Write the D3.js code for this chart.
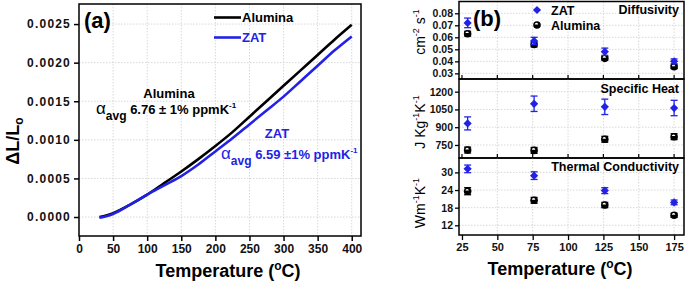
<!DOCTYPE html>
<html>
<head>
<meta charset="utf-8">
<script src="https://cdn.jsdelivr.net/npm/d3@7"></script>
<style>
  body { margin: 0; background: #fff; }
  svg { display: block; font-family: "Liberation Sans", Arial, sans-serif; font-weight: bold; }
</style>
</head>
<body>
<svg id="chart" width="685" height="283"></svg>
<script>
// ---- panel (a): dilatometry ----
const tempA = [30, 40, 50, 75, 100, 125, 150, 175, 200, 225, 250, 275, 300, 325, 350, 375, 400];
const aluminaDL = [0, 0.00002, 0.00005, 0.00016, 0.00029, 0.00044, 0.00059, 0.00075, 0.00092, 0.0011, 0.0013, 0.0015, 0.0017, 0.0019, 0.0021, 0.0023, 0.00249];
const zatDL = [-0.00001, 0.00001, 0.00004, 0.00016, 0.00029, 0.00041, 0.00053, 0.00068, 0.00085, 0.00102, 0.0012, 0.00138, 0.00156, 0.00176, 0.00196, 0.00216, 0.00234];
const ticksA_x = [0, 50, 100, 150, 200, 250, 300, 350, 400];
const ticksA_y = [0, 0.0005, 0.001, 0.0015, 0.002, 0.0025];

// ---- panel (b): thermal properties ----
const tempB = [29, 76, 126, 175];
const zatDiff = [0.072, 0.057, 0.048, 0.040];
const zatDiffErr = [0.004, 0.003, 0.003, 0.002];
const aluDiff = [0.063, 0.054, 0.0425, 0.0355];
const aluDiffErr = [0.002, 0.002, 0.0015, 0.0015];
const zatCp = [932, 1098, 1072, 1062];
const zatCpErr = [55, 65, 65, 65];
const aluCp = [707, 704, 798, 820];
const aluCpErr = [25, 25, 25, 25];
const zatK = [31.2, 28.9, 23.8, 19.8];
const zatKErr = [1.3, 1.3, 1.0, 0.8];
const aluK = [23.6, 20.5, 18.9, 15.4];
const aluKErr = [1.2, 1.0, 0.9, 0.7];
const ticksB_x = [25, 50, 75, 100, 125, 150, 175];

const BLUE = "#2222e6";
const GRID = "#d8d8d8";
const svg = d3.select("#chart");

// ================= panel (a) =================
const ax = d3.scaleLinear().domain([0, 413.6]).range([79, 361]);
const ay = d3.scaleLinear().domain([-0.000246, 0.00276]).range([236, 4]);

const gA = svg.append("g");
gA.selectAll(".gx").data(ticksA_x.slice(1)).enter().append("line")
  .attr("x1", d => ax(d)).attr("x2", d => ax(d)).attr("y1", 4).attr("y2", 236)
  .attr("stroke", GRID).attr("stroke-dasharray", "1.5,1.5");
gA.selectAll(".gy").data(ticksA_y).enter().append("line")
  .attr("x1", 79).attr("x2", 361).attr("y1", d => ay(d)).attr("y2", d => ay(d))
  .attr("stroke", GRID).attr("stroke-dasharray", "1.5,1.5");

const lineA = d3.line().x(d => ax(d[0])).y(d => ay(d[1])).curve(d3.curveMonotoneX);
gA.append("path").datum(tempA.map((t, i) => [t, aluminaDL[i]]))
  .attr("d", lineA).attr("fill", "none").attr("stroke", "#000").attr("stroke-width", 2.6);
gA.append("path").datum(tempA.map((t, i) => [t, zatDL[i]]))
  .attr("d", lineA).attr("fill", "none").attr("stroke", BLUE).attr("stroke-width", 2.6);

gA.append("rect").attr("x", 79).attr("y", 4).attr("width", 282).attr("height", 232)
  .attr("fill", "none").attr("stroke", "#000").attr("stroke-width", 1.5);

const axA_x = gA.append("g").attr("transform", "translate(0,236)")
  .call(d3.axisBottom(ax).tickValues(ticksA_x).tickSize(5).tickPadding(3));
const axA_y = gA.append("g").attr("transform", "translate(79,0)")
  .call(d3.axisLeft(ay).tickValues(ticksA_y).tickFormat(d3.format(".4f")).tickSize(5).tickPadding(3));
[axA_x, axA_y].forEach(a => {
  a.select(".domain").remove();
  a.selectAll("line").attr("stroke-width", 1.5);
  a.selectAll("text").attr("font-size", 12).attr("font-weight", "bold").attr("fill", "#111")
    .attr("font-family", "Liberation Sans, Arial, sans-serif");
});
axA_y.selectAll("text").attr("letter-spacing", 1.2);

// axis titles
const yt = gA.append("text").attr("transform", "translate(19,141) rotate(-90)")
  .attr("text-anchor", "middle").attr("font-size", 18);
yt.append("tspan").text("ΔL/L");
yt.append("tspan").text("o").attr("font-size", 12).attr("dy", 4);

const xt = gA.append("text").attr("x", 228).attr("y", 277).attr("text-anchor", "middle").attr("font-size", 18);
xt.append("tspan").text("Temperature (");
xt.append("tspan").text("o").attr("font-size", 12).attr("dy", -7);
xt.append("tspan").text("C)").attr("dy", 7);

gA.append("text").attr("x", 84).attr("y", 28).attr("font-size", 22).text("(a)");

// legend
[["Alumina", "#000", 17.5], ["ZAT", BLUE, 37.5]].forEach(([name, c, y]) => {
  gA.append("line").attr("x1", 214).attr("x2", 241).attr("y1", y).attr("y2", y)
    .attr("stroke", c).attr("stroke-width", 2.6);
  gA.append("text").attr("x", 242).attr("y", y + 4.5).attr("font-size", 13).attr("fill", name === "ZAT" ? BLUE : "#000").text(name);
});

// annotations
function alphaLabel(x, y, value, color) {
  const t = gA.append("text").attr("x", x).attr("y", y).attr("fill", color).attr("font-size", 13);
  t.append("tspan").text("α").attr("font-weight", "normal").attr("font-size", 17);
  t.append("tspan").text("avg").attr("font-size", 12).attr("dy", 6);
  t.append("tspan").text(" " + value + " ppmK").attr("dy", -6);
  t.append("tspan").text("-1").attr("font-size", 8).attr("dy", -6);
}
gA.append("text").attr("x", 169).attr("y", 98).attr("text-anchor", "middle").attr("font-size", 13).text("Alumina");
alphaLabel(96, 114, "6.76 ± 1%", "#000");
gA.append("text").attr("x", 277).attr("y", 138).attr("text-anchor", "middle").attr("font-size", 13).attr("fill", BLUE).text("ZAT");
alphaLabel(221, 159, "6.59 ±1%", BLUE);

// ================= panel (b) =================
const bx = d3.scaleLinear().domain([22.9, 182]).range([459, 684]);
const panels = [
  { top: 1.5, bottom: 79, domain: [0.0253, 0.0898], ticks: [0.03, 0.04, 0.05, 0.06, 0.07, 0.08], fmt: d3.format(".2f"),
    zat: zatDiff, zatE: zatDiffErr, alu: aluDiff, aluE: aluDiffErr, label: "Diffusivity", labelY: 13.5,
    unit: [["cm", 0], ["-2", 1], [" s", 0], ["-1", 1]], unitY: 32 },
  { top: 79, bottom: 158, domain: [640, 1307], ticks: [750, 900, 1050, 1200], fmt: d3.format("d"),
    zat: zatCp, zatE: zatCpErr, alu: aluCp, aluE: aluCpErr, label: "Specific Heat", labelY: 93,
    unit: [["J Kg", 0], ["-1", 1], ["K", 0], ["-1", 1]], unitY: 122 },
  { top: 158, bottom: 235, domain: [8.7, 34.9], ticks: [12, 18, 24, 30], fmt: d3.format("d"),
    zat: zatK, zatE: zatKErr, alu: aluK, aluE: aluKErr, label: "Thermal Conductivity", labelY: 171,
    unit: [["Wm", 0], ["-1", 1], ["K", 0], ["-1", 1]], unitY: 203 }
];

const gB = svg.append("g");
const diamond = d3.symbol().type(d3.symbolSquare).size(34);

function zatMarker(g, x, y) {
  g.append("path").attr("d", diamond).attr("transform", `translate(${x},${y}) rotate(45)`).attr("fill", BLUE);
}

function aluMarker(g, x, y) {
  g.append("circle").attr("cx", x).attr("cy", y).attr("r", 3.8).attr("fill", "#000");
  g.append("path").attr("transform", `translate(${x - 0.5},${y - 0.6})`)
    .attr("d", d3.arc()({ innerRadius: 0, outerRadius: 1.7, startAngle: -Math.PI / 2, endAngle: Math.PI / 2 }))
    .attr("fill", "#fff");
}

function errBar(g, x, y1, y2, color) {
  g.append("line").attr("x1", x).attr("x2", x).attr("y1", y1).attr("y2", y2).attr("stroke", color).attr("stroke-width", 1.3);
  [y1, y2].forEach(y => g.append("line").attr("x1", x - 3.5).attr("x2", x + 3.5).attr("y1", y).attr("y2", y)
    .attr("stroke", color).attr("stroke-width", 1.3));
}

panels.forEach((p, pi) => {
  const y = d3.scaleLinear().domain(p.domain).range([p.bottom, p.top]);
  const g = gB.append("g");
  g.selectAll(".gx").data(ticksB_x.slice(1)).enter().append("line")
    .attr("x1", d => bx(d)).attr("x2", d => bx(d)).attr("y1", p.top).attr("y2", p.bottom)
    .attr("stroke", GRID).attr("stroke-dasharray", "1.5,1.5");
  g.selectAll(".gy").data(p.ticks).enter().append("line")
    .attr("x1", 459).attr("x2", 684).attr("y1", d => y(d)).attr("y2", d => y(d))
    .attr("stroke", GRID).attr("stroke-dasharray", "1.5,1.5");

  tempB.forEach((t, i) => {
    errBar(g, bx(t), y(p.alu[i] - p.aluE[i]), y(p.alu[i] + p.aluE[i]), "#000");
    aluMarker(g, bx(t), y(p.alu[i]));
  });
  tempB.forEach((t, i) => {
    errBar(g, bx(t), y(p.zat[i] - p.zatE[i]), y(p.zat[i] + p.zatE[i]), BLUE);
    zatMarker(g, bx(t), y(p.zat[i]));
  });

  g.append("rect").attr("x", 459).attr("y", p.top).attr("width", 225).attr("height", p.bottom - p.top)
    .attr("fill", "none").attr("stroke", "#000").attr("stroke-width", 1.5);

  const ya = g.append("g").attr("transform", "translate(459,0)")
    .call(d3.axisLeft(y).tickValues(p.ticks).tickFormat(p.fmt).tickSize(4).tickPadding(2));
  ya.select(".domain").remove();
  ya.selectAll("line").attr("stroke-width", 1.3);
  ya.selectAll("text").attr("font-size", 10.5).attr("font-weight", "bold").attr("fill", "#111")
    .attr("font-family", "Liberation Sans, Arial, sans-serif");

  // small upward ticks on the bottom edge of the upper panels
  if (pi < 2) {
    g.selectAll(".bt").data(ticksB_x).enter().append("line")
      .attr("x1", d => bx(d)).attr("x2", d => bx(d)).attr("y1", p.bottom - 4).attr("y2", p.bottom)
      .attr("stroke", "#000").attr("stroke-width", 1.2);
  }

  g.append("text").attr("x", 679).attr("y", p.labelY).attr("text-anchor", "end").attr("font-size", 12.5).text(p.label);

  const ut = g.append("text").attr("transform", `translate(425,${p.unitY}) rotate(-90)`)
    .attr("text-anchor", "middle").attr("font-size", 14).attr("font-weight", "normal");
  p.unit.forEach(([s, sup], k) => {
    const prevSup = k > 0 && p.unit[k - 1][1];
    ut.append("tspan").text(s).attr("font-size", sup ? 9 : 14)
      .attr("dy", sup ? -6 : (prevSup ? 6 : 0));
  });
});

const axB_x = gB.append("g").attr("transform", "translate(0,235)")
  .call(d3.axisBottom(bx).tickValues(ticksB_x).tickSize(5).tickPadding(3));
axB_x.select(".domain").remove();
axB_x.selectAll("line").attr("stroke-width", 1.3);
axB_x.selectAll("text").attr("font-size", 11).attr("font-weight", "bold").attr("fill", "#111")
  .attr("font-family", "Liberation Sans, Arial, sans-serif");

const xtB = gB.append("text").attr("x", 560).attr("y", 275).attr("text-anchor", "middle").attr("font-size", 18);
xtB.append("tspan").text("Temperature (");
xtB.append("tspan").text("o").attr("font-size", 12).attr("dy", -7);
xtB.append("tspan").text("C)").attr("dy", 7);

gB.append("text").attr("x", 473).attr("y", 26).attr("font-size", 22).text("(b)");

// legend (b)
zatMarker(gB, 537, 10);
gB.append("text").attr("x", 551).attr("y", 14.5).attr("font-size", 12.5).text("ZAT");
aluMarker(gB, 537, 25);
gB.append("text").attr("x", 551).attr("y", 29.5).attr("font-size", 12.5).text("Alumina");
</script>
</body>
</html>
